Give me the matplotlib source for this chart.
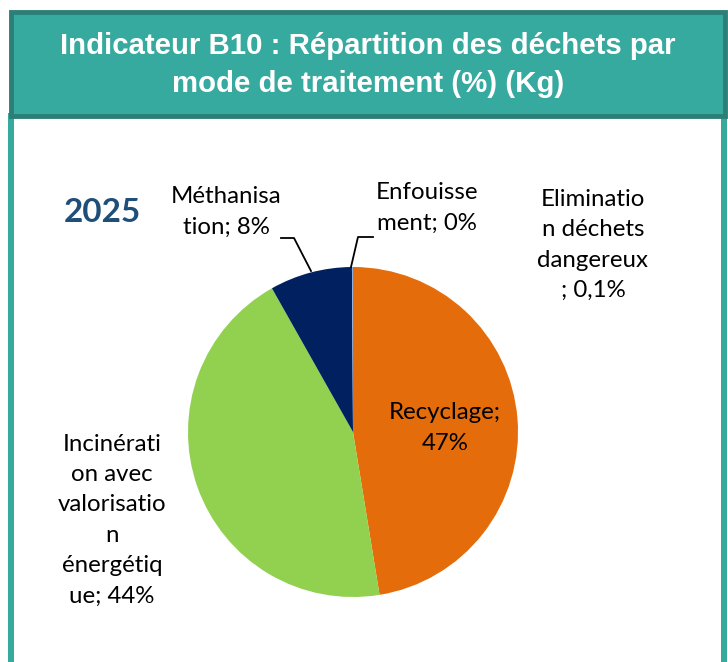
import matplotlib.pyplot as plt
from matplotlib.patches import Rectangle

# waste treatment split, 2025
categories = ["Recyclage", "Incinération avec valorisation énergétique",
              "Méthanisation", "Enfouissement", "Elimination déchets dangereux"]
values = [47, 44, 8, 0, 0.1]
labels = ["Recyclage;\n47%",
          "Incinérati\non avec\nvalorisatio\nn\nénergétiq\nue; 44%",
          "Méthanisa\ntion; 8%",
          "Enfouisse\nment; 0%",
          "Eliminatio\nn déchets\ndangereux\n; 0,1%"]
colors = ["#e46c0a", "#92d050", "#002060", "#a5a5a5", "#8ea9db"]

W, H = 728, 662
fig = plt.figure(figsize=(W / 100, H / 100), dpi=100)
ax = fig.add_axes([0, 0, 1, 1])
ax.set_xlim(0, W)
ax.set_ylim(0, H)
ax.axis("off")

teal = "#37aaa0"
teal_dark = "#2b7f77"

# side borders of the panel
ax.add_patch(Rectangle((8, 0), 6, H - 113, color=teal, lw=0))
ax.add_patch(Rectangle((721, 0), 6, H - 113, color=teal, lw=0))

# title banner
ax.add_patch(Rectangle((11, H - 116), 714, 104, facecolor=teal,
                       edgecolor=teal_dark, lw=3.5))
ax.text(368, H - 65, "Indicateur B10 : Répartition des déchets par\nmode de traitement (%) (Kg)",
        ha="center", va="center", color="white", fontsize=21.2, fontweight="bold",
        family="Liberation Sans", linespacing=1.5)

ax.text(102, H - 212, "2025", ha="center", va="center", color="#1f4e79",
        fontsize=24, fontweight="bold", family="Lato")

# pie, clockwise from the top
cx, cy, r = 353, H - 432, 165
ax.pie(values, colors=colors, startangle=90, counterclock=False,
       center=(cx, cy), radius=r, wedgeprops=dict(lw=0))
ax.set_xlim(0, W)
ax.set_ylim(0, H)
ax.set_aspect("equal")

label_pos = [(445, 428), (112, 520), (226, 212), (427, 208), (593, 245)]
font = dict(family="Lato", fontsize=17.3, color="black", linespacing=1.55,
            ha="center", va="center")
for lab, (x, y) in zip(labels, label_pos):
    ax.text(x, H - y, lab, **font)

# leader lines
ax.plot([281, 294, 311], [H - 238, H - 238, H - 271], color="black", lw=1.3)
ax.plot([351, 358, 373], [H - 267, H - 237, H - 237], color="black", lw=1.3)

fig.savefig("out.png", dpi=100)
